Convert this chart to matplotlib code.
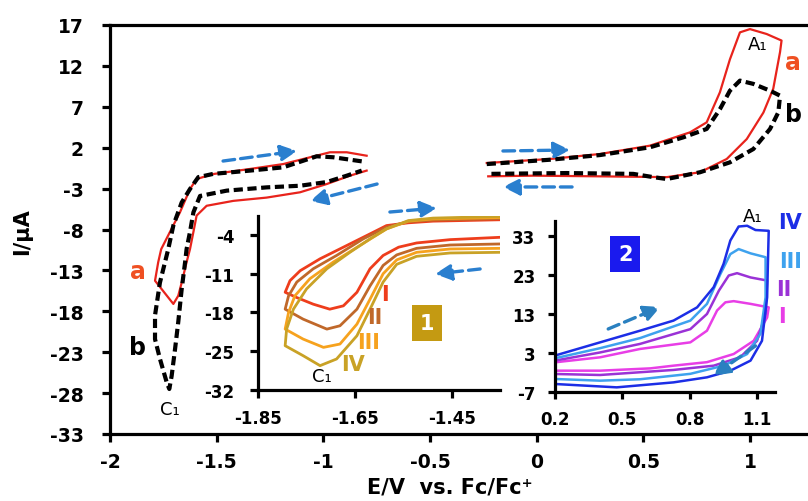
import matplotlib
matplotlib.use('Agg')
import matplotlib.pyplot as plt

plt.rcParams['font.family'] = ['DejaVu Sans']
plt.rcParams['axes.unicode_minus'] = False

# ---------------- main panel data ----------------
# left loop, curve a (red, solid)
a_left_E = [-0.797, -0.890, -0.969, -1.062, -1.188, -1.344, -1.516, -1.594, -1.625, -1.672, -1.719, -1.760,
            -1.774, -1.789, -1.703, -1.680, -1.664, -1.641, -1.625, -1.609, -1.594, -1.547, -1.422, -1.266,
            -1.109, -0.984, -0.875, -0.797]
a_left_I = [1.02, 1.44, 1.44, 0.83, 0.0, -0.60, -1.22, -1.83, -3.05, -5.9, -8.3, -10.4,
            -12.0, -14.26, -17.1, -16.1, -14.5, -12.0, -10.4, -8.3, -6.3, -5.1, -4.5, -4.1,
            -3.45, -2.44, -1.42, -0.8]
# left loop, curve b (black, dashed)
b_left_E = [-0.820, -0.953, -1.031, -1.188, -1.344, -1.516, -1.586, -1.625, -1.664, -1.703, -1.727,
            -1.766, -1.789, -1.789, -1.766, -1.734, -1.722, -1.711, -1.695, -1.680, -1.664, -1.648,
            -1.641, -1.625, -1.609, -1.578, -1.453, -1.266, -1.109, -0.984, -0.890, -0.820]
b_left_I = [0.33, 0.83, 0.95, -0.4, -0.8, -1.2, -1.6, -3.05, -4.7, -7.5, -10.4,
            -14.5, -18.5, -21.4, -23.8, -26.7, -27.5, -25.9, -22.6, -19.3, -15.3, -12.0,
            -10.4, -8.3, -5.9, -3.9, -3.25, -2.85, -2.65, -2.2, -1.42, -0.8]
# right loop, curve a
a_right_E = [-0.234, 0.063, 0.297, 0.531, 0.719, 0.797, 0.859, 0.906, 0.953, 1.000, 1.078, 1.148,
             1.141, 1.109, 1.063, 0.985, 0.891, 0.766, 0.610, 0.297, -0.016, -0.227]
a_right_I = [0.13, 0.62, 1.23, 2.25, 3.88, 5.1, 8.77, 12.8, 16.1, 16.5, 15.9, 15.1,
             13.7, 9.2, 6.3, 3.06, 0.62, -1.0, -1.6, -1.5, -1.42, -1.5]
# right loop, curve b
b_right_E = [-0.234, 0.063, 0.297, 0.531, 0.688, 0.797, 0.859, 0.906, 0.953, 1.016, 1.094, 1.141,
             1.133, 1.094, 1.016, 0.906, 0.766, 0.610, 0.547, 0.453, 0.141, -0.227]
b_right_I = [0.0, 0.53, 1.1, 2.05, 3.27, 4.29, 6.7, 8.97, 10.2, 9.8, 8.97, 8.36,
             6.33, 4.29, 1.84, 0.21, -1.0, -1.83, -1.6, -1.2, -1.1, -1.2]

main_xticks = [-2, -1.5, -1, -0.5, 0, 0.5, 1]
main_xticklabels = ['-2', '-1.5', '-1', '-0.5', '0', '0.5', '1']
main_yticks = [17, 12, 7, 2, -3, -8, -13, -18, -23, -28, -33]

# ---------------- inset 1 data (scan I..IV) ----------------
in1_E_I = [-1.351, -1.489, -1.540, -1.585, -1.619, -1.667, -1.722, -1.763, -1.784, -1.794,
           -1.770, -1.736, -1.702, -1.674, -1.646, -1.619, -1.592, -1.560, -1.523, -1.454, -1.351]
in1_I_I = [-1.25, -1.5, -1.8, -2.3, -3.8, -5.9, -8.3, -10.45, -12.25, -14.35,
           -15.3, -16.5, -17.4, -16.8, -14.35, -10.1, -7.7, -6.2, -5.44, -4.84, -4.42]
in1_E_II = [-1.351, -1.489, -1.540, -1.585, -1.633, -1.688, -1.736, -1.770, -1.787, -1.794,
            -1.757, -1.708, -1.681, -1.646, -1.619, -1.592, -1.564, -1.523, -1.454, -1.351]
in1_I_II = [-1.05, -1.3, -1.6, -2.6, -4.7, -7.7, -10.1, -12.5, -15.0, -17.4,
            -19.2, -21.0, -20.4, -17.4, -13.2, -9.5, -7.6, -6.41, -5.81, -5.62]
in1_E_III = [-1.351, -1.489, -1.540, -1.585, -1.640, -1.695, -1.743, -1.774, -1.787, -1.794,
             -1.757, -1.715, -1.681, -1.646, -1.619, -1.592, -1.564, -1.523, -1.454, -1.351]
in1_I_III = [-0.85, -1.1, -1.5, -2.9, -5.9, -8.9, -11.9, -15.0, -18.0, -21.0,
             -22.8, -24.3, -23.7, -20.1, -15.6, -11.0, -8.5, -7.13, -6.53, -6.41]
in1_E_IV = [-1.351, -1.489, -1.540, -1.585, -1.619, -1.660, -1.708, -1.750, -1.777, -1.791, -1.794,
            -1.757, -1.722, -1.688, -1.646, -1.619, -1.592, -1.564, -1.523, -1.454, -1.351]
in1_I_IV = [-0.65, -0.95, -1.4, -2.9, -4.7, -7.1, -10.1, -13.75, -17.4, -21.0, -24.0,
            -25.8, -27.6, -26.4, -22.2, -17.4, -12.5, -9.3, -7.85, -7.25, -7.13]

in1_xticks = [-1.85, -1.65, -1.45]
in1_yticks = [-4, -11, -18, -25, -32]

# ---------------- inset 2 data (scan I..IV) ----------------
in2_E_IV = [0.2, 0.401, 0.579, 0.728, 0.833, 0.907, 0.951, 0.981, 1.018, 1.056, 1.093, 1.152,
            1.148, 1.145, 1.122, 1.071, 0.981, 0.877, 0.728, 0.475, 0.2]
in2_I_IV = [2.3, 5.7, 8.7, 11.3, 14.7, 19.9, 25.9, 31.9, 35.5, 35.7, 34.6, 34.4,
            25.0, 17.3, 6.1, 1.0, -1.6, -3.3, -4.6, -5.88, -5.02]
in2_E_III = [0.2, 0.401, 0.579, 0.803, 0.877, 0.937, 0.981, 1.018, 1.071, 1.138,
             1.138, 1.115, 1.056, 0.951, 0.803, 0.579, 0.401, 0.2]
in2_I_III = [1.6, 4.2, 6.8, 11.3, 15.6, 23.3, 28.4, 29.7, 28.6, 27.6,
             17.3, 7.9, 2.7, -0.3, -2.4, -3.8, -4.16, -3.73]
in2_E_II = [0.2, 0.401, 0.579, 0.803, 0.877, 0.930, 0.974, 1.011, 1.071, 1.145,
            1.138, 1.100, 1.026, 0.907, 0.728, 0.401, 0.2]
in2_I_II = [1.0, 3.1, 5.3, 9.1, 13.0, 19.0, 22.9, 23.5, 22.4, 21.6,
            13.0, 6.1, 1.9, -0.3, -1.4, -2.7, -2.44]
in2_E_I = [0.2, 0.401, 0.579, 0.803, 0.877, 0.922, 0.959, 0.996, 1.071, 1.152,
           1.145, 1.085, 0.996, 0.877, 0.728, 0.624, 0.401, 0.2]
in2_I_I = [0.56, 1.85, 4.0, 5.7, 8.7, 13.9, 16.0, 16.3, 15.6, 14.7,
           12.1, 6.1, 2.7, 0.6, -0.3, -1.0, -1.59, -1.59]

in2_xticks = [0.2, 0.5, 0.8, 1.1]
in2_yticks = [33, 23, 13, 3, -7]

# ---------------- styling ----------------
RED = '#e8231c'
LBL_RED = '#ef5022'
ARROW = '#2a7fcf'
C1_I, C1_II, C1_III, C1_IV = '#ee3d1c', '#c0682a', '#f6a21e', '#c9a226'
C2_I, C2_II, C2_III, C2_IV = '#e83ee6', '#9a32d6', '#3ea2ee', '#1c2ee6'
BOLD = 'bold'

fig = plt.figure(figsize=(8.08, 5.02), dpi=100)
ax = fig.add_axes([110/808, 67/502, 698/808, 409/502])
ax.set_xlim(-2, 1.272)
ax.set_ylim(-33, 17)
for s in ['left', 'bottom', 'top']:
    ax.spines[s].set_linewidth(2.3)
ax.spines['right'].set_visible(False)
ax.set_xticks(main_xticks)
ax.set_xticklabels(main_xticklabels)
ax.set_yticks(main_yticks)
ax.tick_params(axis='both', direction='out', length=6, width=2.3, labelsize=13.5)
ax.tick_params(axis='y', pad=13)
ax.tick_params(axis='x', pad=7)
for t in ax.get_xticklabels() + ax.get_yticklabels():
    t.set_fontweight(BOLD)

ax.plot(a_left_E, a_left_I, color=RED, lw=1.6, solid_joinstyle='round')
ax.plot(b_left_E, b_left_I, color='black', lw=3, ls=(0, (2.2, 1.1)))
ax.plot(a_right_E, a_right_I, color=RED, lw=1.6, solid_joinstyle='round')
ax.plot(b_right_E, b_right_I, color='black', lw=3, ls=(0, (2.2, 1.1)))


def darrow(axx, start, end, color=ARROW, lw=2.4):
    axx.annotate('', xy=end, xytext=start, annotation_clip=False,
                 arrowprops=dict(arrowstyle='-|>,head_length=0.7,head_width=0.35', color=color, lw=lw,
                                 ls=(0, (3.5, 1.8)), shrinkA=0, shrinkB=0, mutation_scale=14))


darrow(ax, (-1.470, 0.37), (-1.123, 1.6))
darrow(ax, (-0.748, -2.44), (-1.062, -4.52))
darrow(ax, (-0.158, 1.6), (0.157, 1.72))
darrow(ax, (0.166, -2.8), (-0.158, -2.8))

ax.text(1.038, 14.7, 'A₁', fontsize=13, ha='center', va='center')
ax.text(1.202, 12.5, 'a', fontsize=17, color=LBL_RED, fontweight=BOLD, ha='center', va='center')
ax.text(1.202, 6.1, 'b', fontsize=17, color='black', fontweight=BOLD, ha='center', va='center')
ax.text(-1.869, -13.1, 'a', fontsize=17, color=LBL_RED, fontweight=BOLD, ha='center', va='center')
ax.text(-1.869, -22.4, 'b', fontsize=17, color='black', fontweight=BOLD, ha='center', va='center')
ax.text(-1.719, -29.9, 'C₁', fontsize=13, ha='center', va='center')

fig.text(22/808, 1 - 232/502, 'I/μA', rotation=90, fontsize=15, fontweight=BOLD, ha='center', va='center')
fig.text(450/808, 1 - 488/502, 'E/V  vs. Fc/Fc⁺', fontsize=15, fontweight=BOLD, ha='center', va='center')

# ---------------- inset 1 ----------------
ax1 = fig.add_axes([258/808, (502-391)/502, 242/808, 174/502], facecolor='none')
ax1.set_xlim(-1.85, -1.351)
ax1.set_ylim(-32, -0.57)
ax1.spines['top'].set_visible(False)
ax1.spines['right'].set_visible(False)
for s in ['left', 'bottom']:
    ax1.spines[s].set_linewidth(2.3)
ax1.set_xticks(in1_xticks)
ax1.set_xticklabels(['-1.85', '-1.65', '-1.45'])
ax1.set_yticks(in1_yticks)
ax1.tick_params(axis='both', direction='out', length=6, width=2.3, labelsize=12)
ax1.tick_params(axis='y', pad=11)
ax1.tick_params(axis='x', pad=8)
for t in ax1.get_xticklabels() + ax1.get_yticklabels():
    t.set_fontweight(BOLD)

ax1.plot(in1_E_I, in1_I_I, color=C1_I, lw=2.0, solid_joinstyle='round')
ax1.plot(in1_E_II, in1_I_II, color=C1_II, lw=2.0, solid_joinstyle='round')
ax1.plot(in1_E_III, in1_I_III, color=C1_III, lw=2.0, solid_joinstyle='round')
ax1.plot(in1_E_IV, in1_I_IV, color=C1_IV, lw=2.0, solid_joinstyle='round')

darrow(ax1, (-1.578, 0.15), (-1.481, 0.87))
darrow(ax1, (-1.392, -10.14), (-1.485, -11.05))

ax1.text(-1.588, -14.66, 'I', fontsize=15, color=C1_I, fontweight=BOLD, ha='center', va='center')
ax1.text(-1.609, -18.8, 'II', fontsize=15, color=C1_II, fontweight=BOLD, ha='center', va='center')
ax1.text(-1.623, -23.3, 'III', fontsize=15, color=C1_III, fontweight=BOLD, ha='center', va='center')
ax1.text(-1.654, -27.3, 'IV', fontsize=15, color=C1_IV, fontweight=BOLD, ha='center', va='center')
ax1.text(-1.718, -29.5, 'C₁', fontsize=13, ha='center', va='center')
ax1.text(-1.502, -19.9, '1', fontsize=15, color='white', fontweight=BOLD, ha='center', va='center',
         bbox=dict(boxstyle='square,pad=0.38', fc='#c49a12', ec='none'))

# ---------------- inset 2 ----------------
ax2 = fig.add_axes([555/808, (502-392.7)/502, 220/808, 171/502], facecolor='none')
ax2.set_xlim(0.2, 1.18)
ax2.set_ylim(-7, 37)
ax2.spines['top'].set_visible(False)
ax2.spines['right'].set_visible(False)
for s in ['left', 'bottom']:
    ax2.spines[s].set_linewidth(2.3)
ax2.set_xticks(in2_xticks)
ax2.set_xticklabels(['0.2', '0.5', '0.8', '1.1'])
ax2.set_yticks(in2_yticks)
ax2.tick_params(axis='both', direction='out', length=5, width=2.3, labelsize=12)
ax2.tick_params(axis='y', pad=9)
ax2.tick_params(axis='x', pad=8)
for t in ax2.get_xticklabels() + ax2.get_yticklabels():
    t.set_fontweight(BOLD)

ax2.plot(in2_E_I, in2_I_I, color=C2_I, lw=1.8, solid_joinstyle='round')
ax2.plot(in2_E_II, in2_I_II, color=C2_II, lw=1.8, solid_joinstyle='round')
ax2.plot(in2_E_III, in2_I_III, color=C2_III, lw=1.8, solid_joinstyle='round')
ax2.plot(in2_E_IV, in2_I_IV, color=C2_IV, lw=1.8, solid_joinstyle='round')

darrow(ax2, (0.437, 9.14), (0.669, 14.8), color='#2a80c0')
darrow(ax2, (1.093, 4.8), (0.905, -2.9), color='#2a80c0')

ax2.text(1.079, 38.2, 'A₁', fontsize=13, ha='center', va='center')
ax2.text(1.249, 36.7, 'IV', fontsize=15, color=C2_IV, fontweight=BOLD, ha='center', va='center')
ax2.text(1.249, 26.6, 'III', fontsize=15, color=C2_III, fontweight=BOLD, ha='center', va='center')
ax2.text(1.218, 19.4, 'II', fontsize=15, color=C2_II, fontweight=BOLD, ha='center', va='center')
ax2.text(1.213, 12.5, 'I', fontsize=15, color=C2_I, fontweight=BOLD, ha='center', va='center')
ax2.text(0.5125, 28.4, '2', fontsize=15, color='white', fontweight=BOLD, ha='center', va='center',
         bbox=dict(boxstyle='square,pad=0.38', fc='#1a1aee', ec='none'))

fig.savefig('out.png', dpi=100)
